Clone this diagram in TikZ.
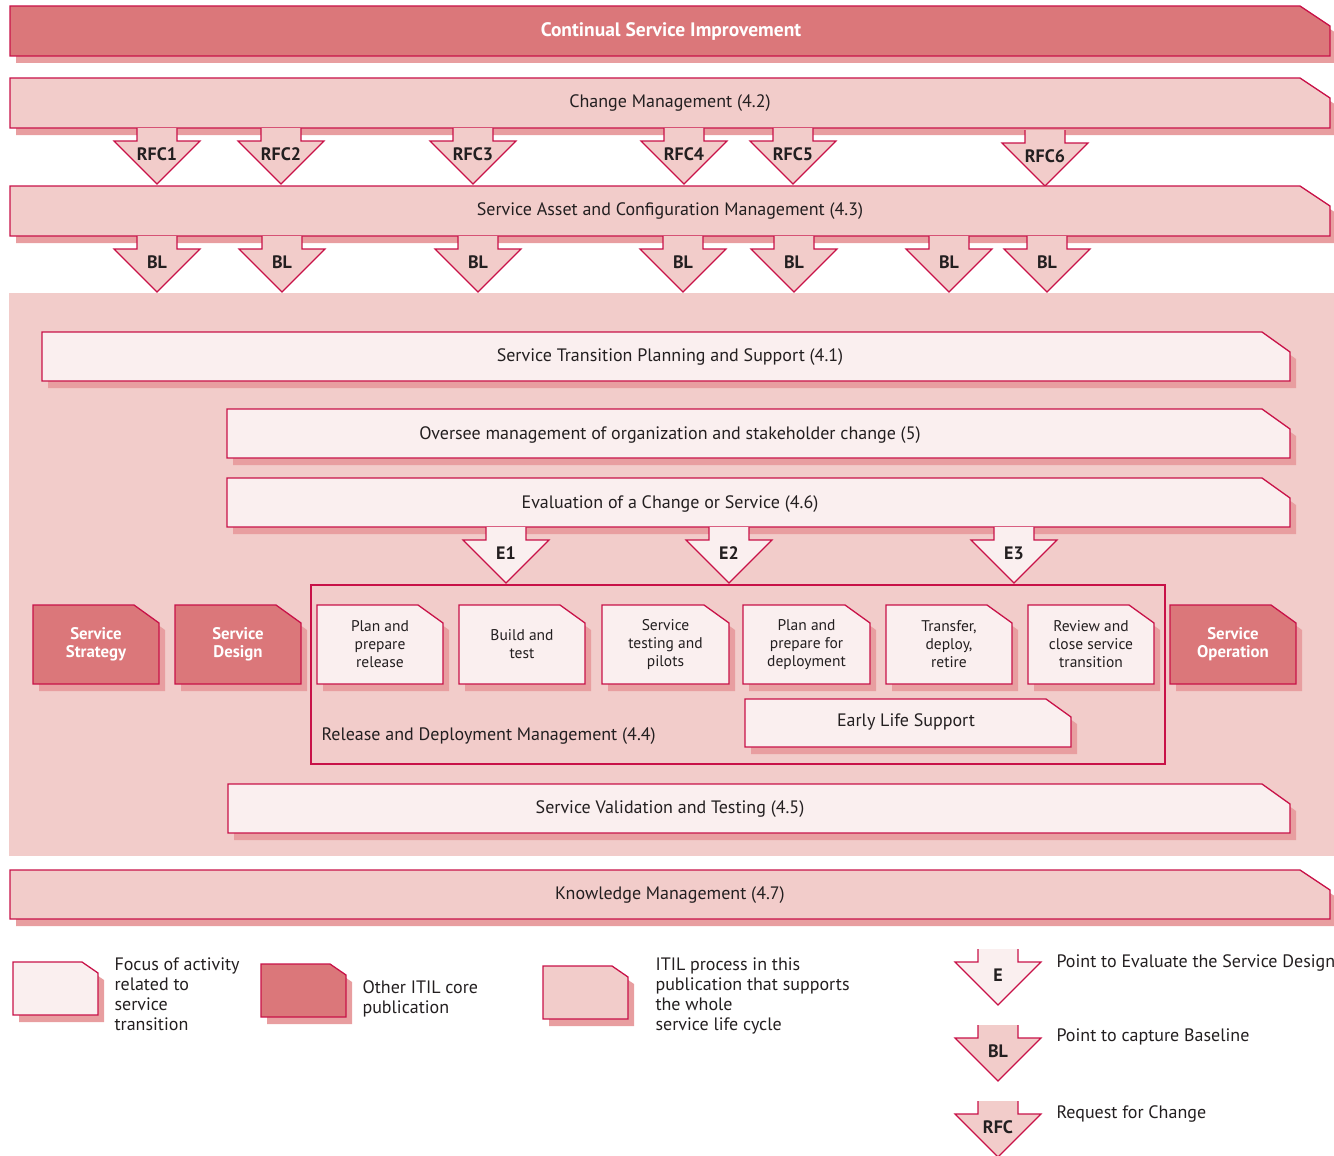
\documentclass[tikz,border=0pt]{standalone}
\usepackage{fontspec}
\setmainfont{PT Sans}
\usepackage{xcolor}
\definecolor{rim}{RGB}{200,18,72}
\definecolor{core area}{RGB}{219,119,122}
\definecolor{process area}{RGB}{242,204,202}
\definecolor{focus area}{RGB}{250,239,239}
\definecolor{shade area}{RGB}{232,158,160}
\definecolor{ink}{RGB}{35,31,32}
\tikzset{core/.style={fill=core area, draw=rim, line width=1.3pt},
    process/.style={fill=process area, draw=rim, line width=1.3pt},
    focus/.style={fill=focus area, draw=rim, line width=1.3pt},
    shade/.style={fill=shade area},
    bartext/.style={text=ink, font=\fontsize{18}{20}\selectfont},
    boxtext/.style={text=ink, align=center, font=\fontsize{15.5}{18}\selectfont},
    coretext/.style={text=white, align=center, font=\bfseries\fontsize{16.8}{18}\selectfont},
    marktext/.style={text=ink, font=\bfseries\fontsize{18}{20}\selectfont},
    keytext/.style={text=ink, align=left, anchor=north west, font=\fontsize{18}{20}\selectfont}}
% chamfered box and its shadow: style, name, x1, y1, x2, y2, cut x, cut y
\newcommand\panel[8]{
    \fill[shade] (#3+6,#4+7) -- (#5-#7+6,#4+7) -- (#5+6,#4+#8+7) -- (#5+6,#6+7) -- (#3+6,#6+7) -- cycle;
    \draw[#1] (#3,#4) -- (#5-#7,#4) -- (#5,#4+#8) -- (#5,#6) -- (#3,#6) -- cycle;
    \coordinate (#2) at ({(#3+#5)/2},{(#4+#6)/2});
}
% down pointer: style, name, centre x, top y, label
\newcommand\pointer[5]{
    \draw[#1, line width=1.1pt] (#3-20,#4) -- (#3-20,#4+13) -- (#3-43,#4+13) -- (#3,#4+56)
        -- (#3+43,#4+13) -- (#3+20,#4+13) -- (#3+20,#4);
    \node[marktext] (#2) at (#3,#4+26) {#5};
}

\begin{document}
\begin{tikzpicture}[x=1pt, y=-1pt]
    \useasboundingbox (0,0) rectangle (1334,1156);
    % bands across the top
    \panel{core}{csi}{10}{6}{1330}{56}{30}{20}
    \node[coretext, font=\bfseries\fontsize{19.5}{20}\selectfont] (csitext) at (671,31) {Continual Service Improvement};
    \panel{process}{chm}{10}{78}{1330}{128}{30}{20}
    \node[bartext] (chmtext) at (670,103) {Change Management (4.2)};
    \pointer{process}{rfc1}{157}{128}{RFC1}
    \pointer{process}{rfc2}{281}{128}{RFC2}
    \pointer{process}{rfc3}{473}{128}{RFC3}
    \pointer{process}{rfc4}{684}{128}{RFC4}
    \pointer{process}{rfc5}{793}{128}{RFC5}
    \pointer{process}{rfc6}{1045}{130}{RFC6}
    \panel{process}{sacm}{10}{186}{1330}{236}{30}{20}
    \node[bartext] (sacmtext) at (670,211) {Service Asset and Configuration Management (4.3)};
    % transition area
    \fill[process area] (9,293) rectangle (1334,856);
    \pointer{process}{bl1}{157}{236}{BL}
    \pointer{process}{bl2}{282}{236}{BL}
    \pointer{process}{bl3}{478}{236}{BL}
    \pointer{process}{bl4}{683}{236}{BL}
    \pointer{process}{bl5}{794}{236}{BL}
    \pointer{process}{bl6}{949}{236}{BL}
    \pointer{process}{bl7}{1047}{236}{BL}
    \panel{focus}{stps}{42}{332}{1290}{381}{28}{20}
    \node[bartext] (stpstext) at (670,357) {Service Transition Planning and Support (4.1)};
    \panel{focus}{osm}{227}{409}{1290}{458}{28}{20}
    \node[bartext] (osmtext) at (670,435) {Oversee management of organization and stakeholder change (5)};
    \panel{focus}{eval}{227}{478}{1290}{527}{28}{20}
    \node[bartext] (evaltext) at (670,504) {Evaluation of a Change or Service (4.6)};
    \pointer{focus}{e1}{506}{527}{E1}
    \pointer{focus}{e2}{729}{527}{E2}
    \pointer{focus}{e3}{1014}{527}{E3}
    % release and deployment
    \draw[rim, line width=2.5pt] (311,585) rectangle (1165,764);
    \node[bartext, anchor=west] (rdmtext) at (318,736) {Release and Deployment Management (4.4)};
    \panel{core}{ss}{33}{605}{159}{684}{25}{18}
    \node[coretext] (sstext) at (ss) {Service\\Strategy};
    \panel{core}{sd}{175}{605}{301}{684}{25}{18}
    \node[coretext] (sdtext) at (sd) {Service\\Design};
    \panel{core}{so}{1170}{605}{1296}{684}{25}{18}
    \node[coretext] (sotext) at (so) {Service\\Operation};
    \panel{focus}{rd1}{317}{605}{443}{684}{25}{18}
    \node[boxtext] (rd1text) at (rd1) {Plan and\\prepare\\release};
    \panel{focus}{rd2}{459}{605}{585}{684}{25}{18}
    \node[boxtext] (rd2text) at (rd2) {Build and\\test};
    \panel{focus}{rd3}{602}{605}{729}{684}{25}{18}
    \node[boxtext] (rd3text) at (rd3) {Service\\testing and\\pilots};
    \panel{focus}{rd4}{743}{605}{870}{684}{25}{18}
    \node[boxtext] (rd4text) at (rd4) {Plan and\\prepare for\\deployment};
    \panel{focus}{rd5}{886}{605}{1012}{684}{25}{18}
    \node[boxtext] (rd5text) at (rd5) {Transfer,\\deploy,\\retire};
    \panel{focus}{rd6}{1028}{605}{1154}{684}{25}{18}
    \node[boxtext] (rd6text) at (rd6) {Review and\\close service\\transition};
    \panel{focus}{els}{745}{699}{1071}{747}{25}{18}
    \node[bartext] (elstext) at (906,722) {Early Life Support};
    \panel{focus}{svt}{228}{784}{1290}{833}{28}{20}
    \node[bartext] (svttext) at (670,809) {Service Validation and Testing (4.5)};
    % bottom band
    \panel{process}{km}{10}{870}{1330}{919}{30}{20}
    \node[bartext] (kmtext) at (670,895) {Knowledge Management (4.7)};
    % key
    \panel{focus}{keyfocus}{13}{962}{98}{1015}{16}{11}
    \node[keytext] (keyfocustext) at (111,954) {Focus of activity\\related to\\service\\transition};
    \panel{core}{keycore}{261}{964}{346}{1017}{16}{11}
    \node[keytext] (keycoretext) at (359,977) {Other ITIL core\\publication};
    \panel{process}{keyprocess}{543}{966}{628}{1019}{16}{11}
    \node[keytext] (keyprocesstext) at (652,954) {ITIL process in this\\publication that supports\\the whole\\service life cycle};
    \pointer{focus}{keye}{998}{949}{E}
    \pointer{process}{keybl}{998}{1025}{BL}
    \pointer{process}{keyrfc}{998}{1101}{RFC}
    \node[bartext, anchor=west] (keyetext) at (1053,963) {Point to Evaluate the Service Design};
    \node[bartext, anchor=west] (keybltext) at (1053,1037) {Point to capture Baseline};
    \node[bartext, anchor=west] (keyrfctext) at (1053,1114) {Request for Change};
\end{tikzpicture}
\end{document}
